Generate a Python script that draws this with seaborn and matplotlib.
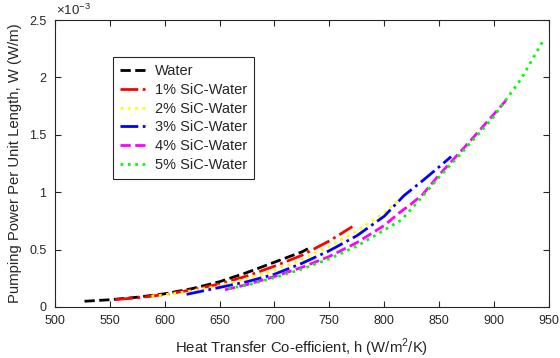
import numpy as np
import pandas as pd
import matplotlib
matplotlib.use("Agg")
import matplotlib.pyplot as plt
import seaborn as sns

# heat transfer coefficient h (W/m2/K) and pumping power (x1e-3 W/m)
h_water = [527, 550, 575, 600, 625, 650, 675, 700, 725, 733]
w_water = [0.050, 0.063, 0.085, 0.115, 0.160, 0.220, 0.300, 0.390, 0.480, 0.520]

h_sic1 = [555, 575, 600, 625, 650, 675, 700, 725, 750, 771]
w_sic1 = [0.065, 0.080, 0.108, 0.150, 0.200, 0.270, 0.355, 0.450, 0.575, 0.700]

h_sic2 = [588, 600, 625, 650, 675, 700, 725, 750, 775, 800, 814]
w_sic2 = [0.095, 0.105, 0.140, 0.185, 0.245, 0.320, 0.410, 0.530, 0.660, 0.820, 0.940]

h_sic3 = [620, 650, 675, 700, 725, 750, 775, 800, 818, 835, 850, 861]
w_sic3 = [0.110, 0.170, 0.220, 0.285, 0.380, 0.490, 0.620, 0.790, 0.970, 1.100, 1.220, 1.310]

h_sic4 = [655, 675, 700, 725, 750, 775, 800, 815, 825, 835, 850, 875, 900, 911]
w_sic4 = [0.150, 0.195, 0.265, 0.345, 0.440, 0.560, 0.710, 0.830, 0.900, 0.980, 1.150, 1.410, 1.680, 1.800]

h_sic5 = [658, 675, 700, 725, 750, 775, 800, 816, 830, 850, 875, 900, 925, 946]
w_sic5 = [0.160, 0.190, 0.255, 0.330, 0.420, 0.530, 0.670, 0.760, 0.910, 1.130, 1.390, 1.660, 1.990, 2.340]

labels = ["Water", "1% SiC-Water", "2% SiC-Water", "3% SiC-Water", "4% SiC-Water", "5% SiC-Water"]
series = [(h_water, w_water), (h_sic1, w_sic1), (h_sic2, w_sic2),
          (h_sic3, w_sic3), (h_sic4, w_sic4), (h_sic5, w_sic5)]
colors = ["black", "red", "yellow", "blue", "magenta", "#00ff00"]
styles = ["--", "-.", ":", "-.", "--", ":"]

sns.set_style("ticks")
plt.rcParams["font.family"] = ["Liberation Sans", "DejaVu Sans"]
plt.rcParams["mathtext.fontset"] = "custom"
plt.rcParams["mathtext.rm"] = "Liberation Sans"

fig = plt.figure(figsize=(5.6, 3.58), dpi=100)
ax = fig.add_axes([0.098, 0.1425, 0.882, 0.8015])

for (hh, ww), lab, c, ls in zip(series, labels, colors, styles):
    df = pd.DataFrame({"h": hh, "W": np.array(ww) * 1e-3})
    sns.lineplot(data=df, x="h", y="W", ax=ax, color=c, linestyle=ls,
                 linewidth=2, label=lab, sort=False)

ax.set_xlim(500, 950)
ax.set_ylim(0, 2.5e-3)
ax.set_xticks(np.arange(500, 951, 50))
ax.set_yticks(np.arange(0, 2.51e-3, 0.5e-3))
ax.set_yticklabels(["0", "0.5", "1", "1.5", "2", "2.5"])

dark = "#262626"
ax.tick_params(direction="in", top=True, right=True, labelsize=9,
               colors=dark, length=4, width=0.8)
ax.tick_params(axis="x", pad=6)
ax.tick_params(axis="y", pad=6)
for sp in ax.spines.values():
    sp.set_color(dark)
    sp.set_linewidth(0.8)
ax.text(0.003, 1.008, r"$\times10^{-3}$", transform=ax.transAxes,
        fontsize=9.5, color=dark, ha="left", va="bottom")

ax.set_xlabel("Heat Transfer Co-efficient, h (W/m$^2$/K)", fontsize=10.7, color=dark, labelpad=7)
ax.set_ylabel("Pumping Power Per Unit Length, W (W/m)", fontsize=10.7, color=dark, labelpad=5)

leg = ax.legend(loc="upper left", bbox_to_anchor=(0.117, 0.871), borderaxespad=0,
                fontsize=10.5, frameon=True, fancybox=False, handlelength=2.0,
                handletextpad=0.4, labelspacing=0.32, borderpad=0.5)
leg.get_frame().set_edgecolor(dark)
leg.get_frame().set_linewidth(0.8)
leg.get_frame().set_alpha(1)

fig.savefig("out.png", dpi=100)
